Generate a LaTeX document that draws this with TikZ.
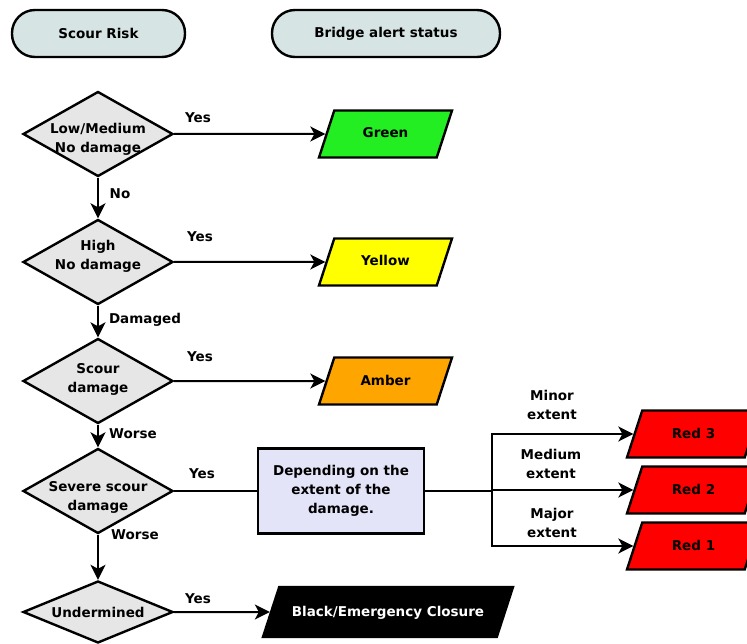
\documentclass[tikz,border=0pt]{standalone}
\usepackage{fontspec}
\setmainfont{DejaVu Sans}
\usetikzlibrary{positioning}
\usetikzlibrary{shapes.geometric}
\usetikzlibrary{arrows.meta}

\definecolor{termfill}{HTML}{D6E4E4}
\definecolor{decfill}{HTML}{E6E6E6}
\definecolor{boxfill}{HTML}{E4E4F8}
\definecolor{alertgreen}{HTML}{22EE22}
\definecolor{alertyellow}{HTML}{FFFF00}
\definecolor{alertamber}{HTML}{FFA500}
\definecolor{alertred}{HTML}{FF0000}

\tikzset{
 txt/.style={font=\fontsize{13.5}{19}\selectfont\bfseries, align=center, inner sep=0pt},
 term/.style={txt, draw, line width=2.4pt, fill=termfill, rounded corners=23pt, minimum height=47pt},
 decision/.style={diamond, draw, line width=2.4pt, fill=decfill, minimum width=150pt, minimum height=85pt, inner sep=0pt},
 alert/.style={txt, trapezium, trapezium left angle=72, trapezium right angle=108, trapezium stretches body, draw, line width=2.4pt, text height=10pt, text depth=2pt, inner ysep=17.5pt, minimum width=133pt},
 process/.style={txt, draw, line width=2.4pt, fill=boxfill, minimum width=166pt, minimum height=85pt},
 wire/.style={line width=2pt},
 conn/.style={wire, -{Stealth[length=15pt,width=15pt,inset=4pt]}},
}

\begin{document}
\begin{tikzpicture}[x=1pt,y=-1pt]
 \useasboundingbox (0,0) rectangle (747,644);

 % headings
 \node[term, minimum width=173pt] (scourrisk) at (98.5,33.5) {Scour Risk};
 \node[term, minimum width=228pt] (alertstatus) at (386,33.5) {Bridge alert status};

 % decisions
 \node[decision] (lowmed) at (98,134) {};
 \node[decision] (high) at (98,262) {};
 \node[decision] (scour) at (98,381) {};
 \node[decision] (severe) at (98,491) {};
 \node[decision, minimum height=62pt] (undermined) at (98,612) {};
 \node[txt] (lowmedtxt) at (98,139) {Low/Medium\\No damage};
 \node[txt] (hightxt) at (98,256) {High\\No damage};
 \node[txt] (scourtxt) at (98,379.5) {Scour\\damage};
 \node[txt] (severetxt) at (98,497) {Severe scour\\damage};
 \node[txt] (underminedtxt) at (98,612) {Undermined};

 % alert states
 \node[alert, fill=alertgreen] (green) at (385.5,134) {Green};
 \node[alert, fill=alertyellow] (yellow) at (385.5,262) {Yellow};
 \node[alert, fill=alertamber] (amber) at (385.5,381) {Amber};
 \node[process] (depend) at (341,491) {Depending on the\\extent of the\\damage.};
 \node[alert, fill=alertred] (red3) at (693.5,434) {Red 3};
 \node[alert, fill=alertred] (red2) at (693.5,490) {Red 2};
 \node[alert, fill=alertred] (red1) at (693.5,546) {Red 1};
 \node[alert, fill=black, text=white, inner ysep=19pt, minimum width=250pt] (closure) at (388,612) {Black/Emergency Closure};
 \coordinate (fork) at (492,491);

 % connectors
 \draw[conn] (lowmed.east) -- (green);
 \draw[conn] (high.east) -- (yellow);
 \draw[conn] (scour.east) -- (amber);
 \draw[wire] (severe.east) -- (depend.west);
 \draw[wire] (depend.east) -- (fork);
 \draw[conn] (fork) |- (red3.west);
 \draw[conn] (fork) |- (red2.west);
 \draw[conn] (fork) |- (red1.west);
 \draw[conn] (undermined.east) -- (closure);
 \draw[conn] (lowmed.south) -- (high.north);
 \draw[conn] (high.south) -- (scour.north);
 \draw[conn] (scour.south) -- (severe.north);
 \draw[conn] (severe.south) -- (undermined.north);

 % labels
 \node[txt] (yes1) at (198,118) {Yes};
 \node[txt] (yes2) at (200,237) {Yes};
 \node[txt] (yes3) at (200,357) {Yes};
 \node[txt] (yes4) at (202,474) {Yes};
 \node[txt] (yes5) at (198,599) {Yes};
 \node[txt] (no) at (120,194) {No};
 \node[txt] (damaged) at (145,320) {Damaged};
 \node[txt] (worse1) at (133,434) {Worse};
 \node[txt] (worse2) at (135,535) {Worse};
 \node[txt] (minor) at (552,404.5) {Minor\\extent};
 \node[txt] (medium) at (551,464) {Medium\\extent};
 \node[txt] (major) at (552,522.5) {Major\\extent};
\end{tikzpicture}
\end{document}
